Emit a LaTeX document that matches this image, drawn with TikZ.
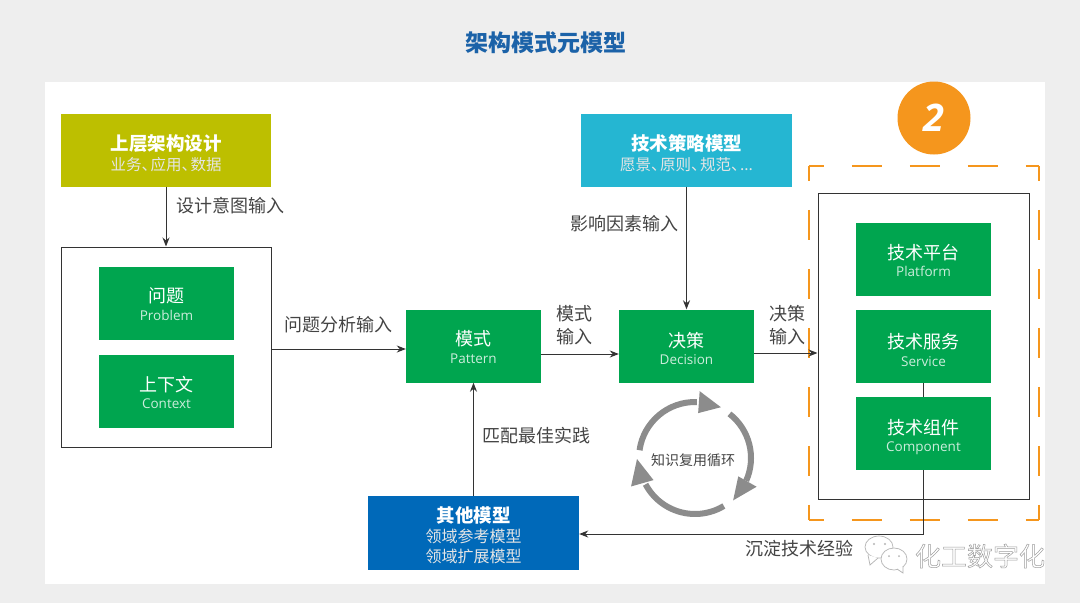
\documentclass[tikz,border=0pt]{standalone}
\usepackage{fontspec}
\setmainfont{Open Sans}
\newfontfamily\cjk{Noto Sans CJK SC}
\usetikzlibrary{arrows.meta}
\definecolor{pagebg}{HTML}{EEEEEE}
\definecolor{titleblue}{HTML}{1B62A8}
\definecolor{greenbox}{HTML}{00A54F}
\definecolor{olivebox}{HTML}{BDBF00}
\definecolor{cyanbox}{HTML}{25B6D2}
\definecolor{bluebox}{HTML}{0069B9}
\definecolor{orangec}{HTML}{F5961D}
\definecolor{labelc}{HTML}{444444}
\definecolor{linec}{HTML}{333333}
\definecolor{cycc}{HTML}{8C8C8C}
\definecolor{markc}{HTML}{B4B4B4}
\newcommand{\dn}[1]{\rule{0pt}{\dimexpr 17pt+2\dimexpr #1\relax\relax}}
\newcommand{\gtext}[3][0pt]{{\dn{#1}\cjk\fontsize{18}{18}\selectfont #2}\\{\color{white!80!greenbox}\fontsize{13.5}{14}\selectfont #3}}
\newcommand{\htext}[3][0pt]{{\dn{#1}\cjk\bfseries\fontsize{18.5}{20}\selectfont #2}\\{\cjk\color{white!90!black}\fontsize{15.5}{20}\selectfont #3}}
\newcommand{\htextb}[4][0pt]{{\dn{#1}\cjk\bfseries\fontsize{18.5}{20}\selectfont #2}\\{\cjk\color{white!90!black}\fontsize{16}{20}\selectfont #3}\\{\cjk\color{white!90!black}\fontsize{16}{20}\selectfont #4}}
\newcommand{\ds}{、\kern-6.5pt}
\tikzset{
  boxbase/.style={rectangle,inner sep=0pt,align=center,text=white,minimum width=135pt,minimum height=73pt},
  greennode/.style={boxbase,fill=greenbox,font=\fontsize{14}{17.5}\selectfont},
  widenode/.style={boxbase,minimum width=211pt,font=\fontsize{14}{20}\selectfont},
  framebox/.style={rectangle,draw=linec,line width=1pt,fill=white,inner sep=0pt},
  conn/.style={draw=linec,line width=1pt},
  arr/.style={conn,-{Stealth[length=9pt,width=7pt]}},
  lab/.style={text=labelc,font=\cjk\fontsize{18}{23}\selectfont,align=center,inner sep=0pt},
  odash/.style={draw=orangec,line width=2.4pt},
  cycarc/.style={draw=cycc,line width=6pt},
  cychead/.style={fill=cycc},
  wxb/.style={draw=markc,fill=white,line width=.7pt}
}
\begin{document}
\begin{tikzpicture}[x=1pt,y=-1pt]
\useasboundingbox (0,0) rectangle (1080,603);
\fill[pagebg] (0,0) rectangle (1080,603);
\fill[white] (45,82) rectangle (1045,584);
\node[text=titleblue,font=\cjk\bfseries\fontsize{23}{26}\selectfont,inner sep=0pt] (title) at (545.5,43) {架构模式元模型};

% orange marker and dashed frame
\node[circle,fill=orangec,minimum size=73pt,inner sep=0pt,text=white,font=\bfseries\itshape\fontsize{38}{40}\selectfont] (badge) at (934,118) {2};
\node[rectangle,minimum width=230pt,minimum height=354pt,inner sep=0pt] (dashframe) at (924,343) {};
\draw[odash,dash pattern=on 30pt off 28pt,dash phase=15pt] (dashframe.north west) -- (dashframe.north east);
\draw[odash,dash pattern=on 30pt off 28pt,dash phase=15pt] (dashframe.south west) -- (dashframe.south east);
\draw[odash,dash pattern=on 30pt off 29pt,dash phase=15pt] (dashframe.north west) -- (dashframe.south west);
\draw[odash,dash pattern=on 30pt off 29pt,dash phase=15pt] (dashframe.north east) -- (dashframe.south east);

% frames
\node[framebox,minimum width=210pt,minimum height=200pt] (leftframe) at (166,347) {};
\node[framebox,minimum width=211pt,minimum height=306pt] (rightframe) at (923.5,346) {};

% top boxes
\node[widenode,fill=olivebox,minimum width=210pt] (upper) at (166,150) {\htext[2.5pt]{上层架构设计}{业务\ds 应用\ds 数据}};
\node[widenode,fill=cyanbox] (strategy) at (686.5,150) {\htext[2.5pt]{技术策略模型}{愿景\ds 原则\ds 规范\ds ...}};
\node[widenode,fill=bluebox,minimum height=74pt] (other) at (473.5,533) {\htextb[1.5pt]{其他模型}{领域参考模型}{领域扩展模型}};

% green boxes
\node[greennode] (problem) at (166.5,303) {\gtext{问题}{Problem}};
\node[greennode] (context) at (166.5,391.5) {\gtext{上下文}{Context}};
\node[greennode] (pattern) at (473.5,346) {\gtext{模式}{Pattern}};
\node[greennode] (decision) at (686.5,346) {\gtext[1.5pt]{决策}{Decision}};
\node[greennode] (platform) at (923.5,259.5) {\gtext{技术平台}{Platform}};
\node[greennode] (service) at (923.5,346) {\gtext[3pt]{技术服务}{Service}};
\node[greennode] (component) at (923.5,433.5) {\gtext[2.5pt]{技术组件}{Component}};

% connectors
\coordinate (turn) at (component.south |- other.east);
\draw[arr] (upper.south) -- (leftframe.north);
\draw[arr] ([yshift=-2pt]leftframe.east) -- ([yshift=-2pt]leftframe.east -| pattern.west);
\draw[arr] ([yshift=-8pt]pattern.east) -- ([yshift=-8pt]decision.west);
\draw[arr] ([yshift=-7pt]decision.east) -- ([yshift=-7pt]decision.east -| rightframe.west);
\draw[arr] (strategy.south) -- (decision.north);
\draw[arr] (other.north) -- (pattern.south);
\draw[conn] (service.south) -- (component.north);
\draw[arr] (component.south) -- ([yshift=-1pt]turn) -- ([yshift=-1pt]other.east);

% connector labels
\node[lab] (l1) at (230,206) {设计意图输入};
\node[lab] (l2) at (338.5,325) {问题分析输入};
\node[lab] (l3) at (574,325) {模式\\输入};
\node[lab] (l4) at (787,325) {决策\\输入};
\node[lab] (l5) at (624,224) {影响因素输入};
\node[lab] (l6) at (536,435.5) {匹配最佳实践};
\node[lab] (l7) at (799,549) {沉淀技术经验};

% knowledge cycle
\begin{scope}[shift={(695,458)},yscale=-1]
\draw[cycarc] (172:56) arc (172:88:56);
\fill[cychead] (86:67) -- (86:45) -- (63:57) -- cycle;
\draw[cycarc] (52:56) arc (52:-24:56);
\fill[cychead] (-25:68) -- (-23:47) -- (-48:57) -- cycle;
\draw[cycarc] (-59:56) arc (-59:-152:56);
\fill[cychead] (-156:70) -- (-152:47) -- (-179:58) -- cycle;
\node[text=labelc,font=\cjk\fontsize{14}{16}\selectfont,inner sep=0pt] (cyclabel) at (-2,-2) {知识复用循环};
\end{scope}

% watermark
\draw[wxb] (879,547) ellipse [x radius=14,y radius=11];
\draw[wxb] (868,555) -- (870,565) -- (878,558);
\fill[markc] (874,544) circle (1.1) (885,544) circle (1.1);
\draw[wxb] (894,559) ellipse [x radius=13,y radius=11];
\draw[wxb] (897,569) -- (903,573) -- (903,566);
\fill[markc] (889,556) circle (1) (899,556) circle (1);
\node[text=markc,font=\cjk\fontsize{26}{28}\selectfont,inner sep=0pt] (mark) at (980,556) {\special{pdf:code q 1 Tr 0.5 w 0.62 0.62 0.62 RG}化工数字化\special{pdf:code Q}};
\end{tikzpicture}
\end{document}
